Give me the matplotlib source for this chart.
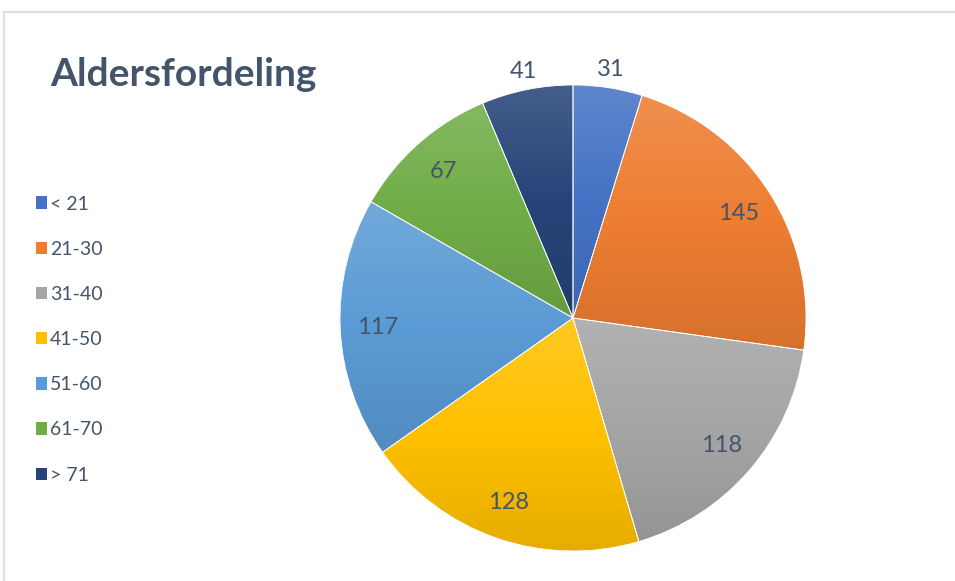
import numpy as np
import matplotlib.pyplot as plt
from matplotlib.colors import to_rgb, LinearSegmentedColormap
from matplotlib.patches import Patch
from matplotlib.lines import Line2D

# data
groups = ["< 21", "21-30", "31-40", "41-50", "51-60", "61-70", "> 71"]
counts = [31, 145, 118, 128, 117, 67, 41]
colors = ["#4472C4", "#ED7D31", "#A5A5A5", "#FFC000", "#5B9BD5", "#70AD47", "#264478"]
outside = ["< 21", "> 71"]   # small slices get their label above the pie

txt_col = "#44546A"
plt.rcParams['font.family'] = ['Lato', 'DejaVu Sans']

fig = plt.figure(figsize=(9.55, 5.81), dpi=100)

# light frame (top and left edge) like the Excel chart area
fr = "#D9DFE7"
fig.lines.append(Line2D([4/955, 1], [1 - 12/581]*2, transform=fig.transFigure, color=fr, lw=1.5))
fig.lines.append(Line2D([4/955]*2, [0, 1 - 12/581], transform=fig.transFigure, color=fr, lw=1.5))

# pie axes: centre at (573, 318) px, radius 233 px
lim = 250/233
ax = fig.add_axes([(573-250)/955, (263-250)/581, 500/955, 500/581])

wedges, _ = ax.pie(counts, colors=colors, startangle=90, counterclock=False,
                   radius=1, wedgeprops=dict(edgecolor="white", linewidth=0.6))
ax.axis("off")


def mix(c, w, t):
    c = np.array(to_rgb(c)); w = np.array(to_rgb(w))
    return tuple(c*(1-t) + w*t)


# vertical gradient inside each slice (lighter on top, darker at bottom)
for w, c in zip(wedges, colors):
    bb = w.get_path().get_extents()
    cmap = LinearSegmentedColormap.from_list("g", [mix(c, "black", 0.10), c, mix(c, "white", 0.14)])
    grad = np.linspace(0, 1, 256).reshape(-1, 1)
    im = ax.imshow(grad, cmap=cmap, origin="lower", aspect="auto",
                   extent=[bb.x0, bb.x1, bb.y0, bb.y1], zorder=w.get_zorder())
    im.set_clip_path(w)
    w.set_facecolor("none")
    w.set_zorder(w.get_zorder() + 0.5)
ax.set_xlim(-lim, lim)
ax.set_ylim(-lim, lim)

# value labels
total = sum(counts)
start = 90.0
for g, v in zip(groups, counts):
    span = v / total * 360
    mid = np.deg2rad(start - span/2)
    r = 1.08 if g in outside else 0.84
    ax.text(r*np.cos(mid), r*np.sin(mid), str(v), ha="center", va="center",
            fontsize=17, color=txt_col, zorder=5)
    start -= span

fig.text(50/955, 1 - 75/581, "Aldersfordeling", fontsize=28, fontweight="bold",
         color=txt_col, ha="left", va="center")

handles = [Patch(facecolor=c, edgecolor="none") for c in colors]
fig.legend(handles, groups, loc="upper left", bbox_to_anchor=(18/955, 1 - 178/581),
           frameon=False, fontsize=14, handlelength=0.6, handleheight=0.6,
           handletextpad=0.15, labelspacing=1.45, labelcolor=txt_col)

fig.savefig("out.png", dpi=100)
